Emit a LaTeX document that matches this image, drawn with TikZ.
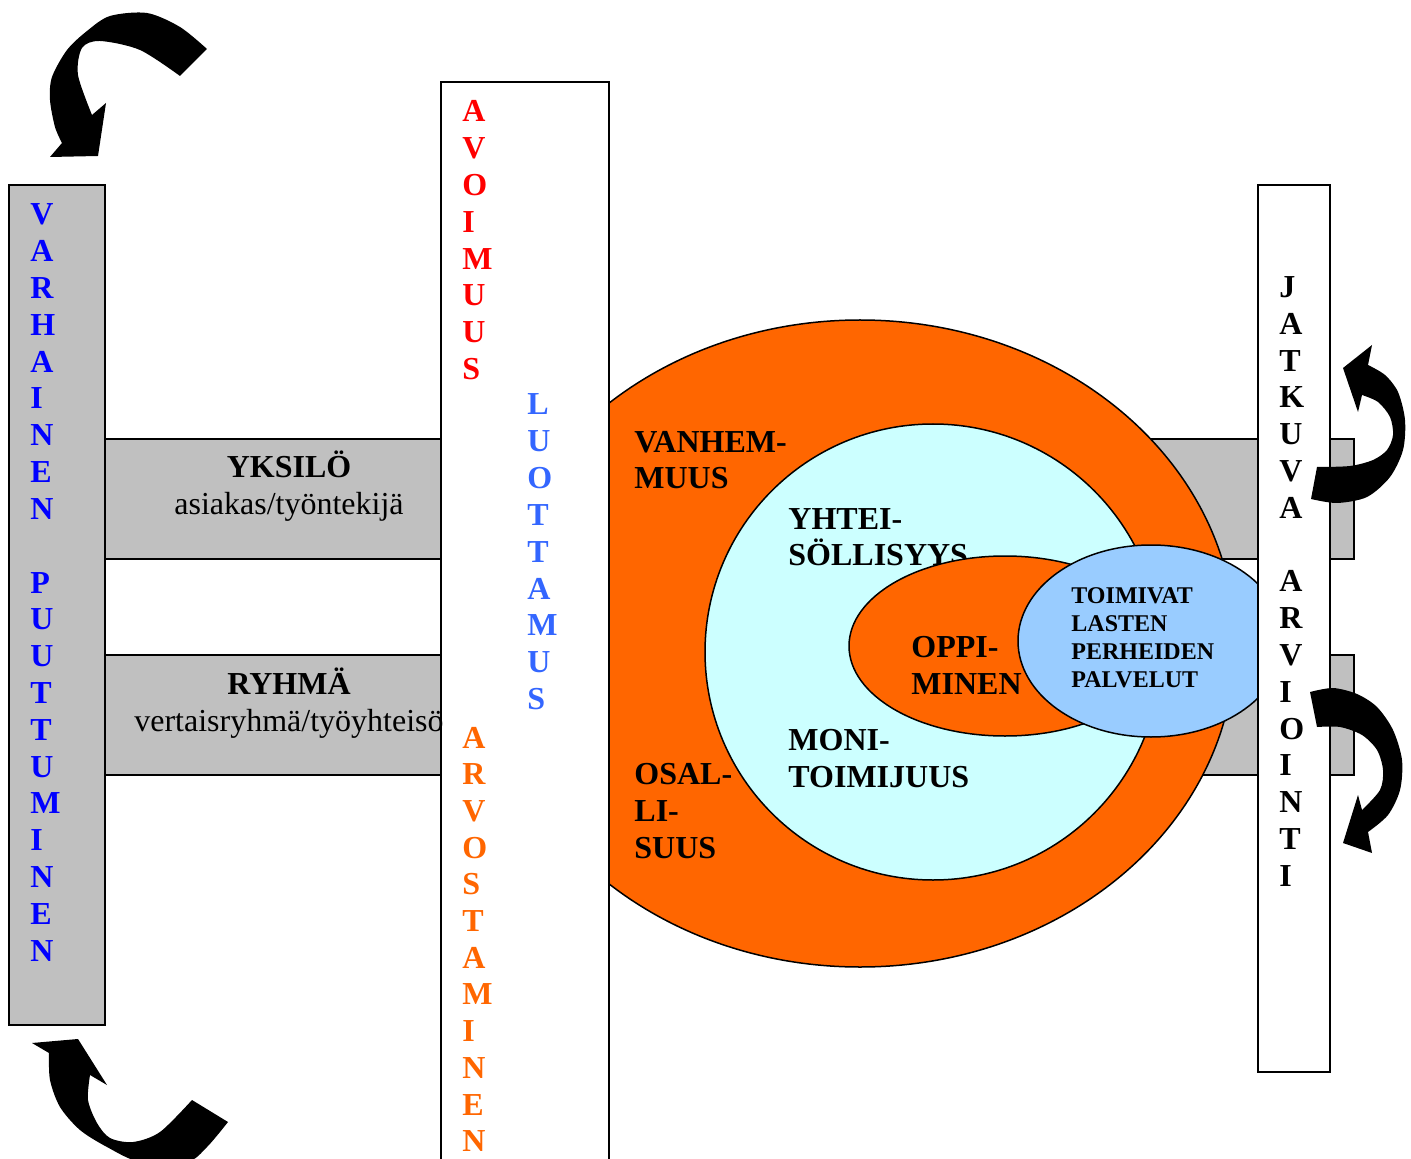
\documentclass[tikz,border=0pt]{standalone}
\usepackage{fontspec}
\setmainfont{Liberation Serif}
\definecolor{bargray}{RGB}{192,192,192}
\definecolor{ringorange}{RGB}{255,102,0}
\definecolor{innercyan}{RGB}{204,255,255}
\definecolor{palblue}{RGB}{153,204,255}
\definecolor{varblue}{RGB}{0,0,255}
\definecolor{luoblue}{RGB}{51,102,255}
\tikzset{
  bar/.style={draw=black, line width=1pt},
  ring/.style={draw=black, line width=0.75pt},
  letter/.style={font=\bfseries\fontsize{16}{18.4}\selectfont, anchor=base west, inner sep=0pt},
  ringtext/.style={font=\bfseries\fontsize{16}{18.4}\selectfont, anchor=base west, inner sep=0pt, align=left},
  bartext/.style={font=\fontsize{16}{18.4}\selectfont, anchor=base, inner sep=0pt},
}
\begin{document}
\begin{tikzpicture}[x=0.5pt,y=-0.5pt]
\useasboundingbox (0,0) rectangle (1411,1159);

%right gray bars
\filldraw[bar, fill=bargray] (1100,439) rectangle (1354,559);
\filldraw[bar, fill=bargray] (1100,655) rectangle (1354,775);
%big ring
\filldraw[ring, fill=ringorange] (860,643.5) ellipse (375 and 323.5);
%left gray bars
\filldraw[bar, fill=bargray] (105,439) rectangle (441,559);
\filldraw[bar, fill=bargray] (105,655) rectangle (441,775);
\filldraw[bar, fill=bargray] (9,185) rectangle (105,1025);
%middle bar
\filldraw[bar, fill=white] (441,82) rectangle (609,1180);
%inner circle
\filldraw[ring, fill=innercyan] (933,652) circle (228);

%ring texts (anchored at the last line)
\node[ringtext] (vanhem) at (634,489) {VANHEM-\\MUUS};
\node[ringtext] (osal) at (634,858) {OSAL-\\LI-\\SUUS};
\node[ringtext] (yhtei) at (788,566) {YHTEI-\\SÖLLISYYS};
\node[ringtext] (moni) at (788,787) {MONI-\\TOIMIJUUS};

%oppiminen
\filldraw[ring, fill=ringorange] (1005,646) ellipse (156 and 90);
\node[ringtext] (oppi) at (911,694) {OPPI-\\MINEN};
%palvelut
\filldraw[ring, fill=palblue] (1151,641) ellipse (133 and 96);
\node[ringtext, font=\bfseries\fontsize{12}{14}\selectfont] (palv) at (1071,687) {TOIMIVAT\\LASTEN\\PERHEIDEN\\PALVELUT};

%right bar
\filldraw[bar, fill=white] (1258,185) rectangle (1330,1072);

%bar texts
\node[bartext, font=\bfseries\fontsize{16}{18.4}\selectfont] (yksilo) at (289,478) {YKSILÖ};
\node[bartext] (asiakas) at (289,515) {asiakas/työntekijä};
\node[bartext, font=\bfseries\fontsize{16}{18.4}\selectfont] (ryhma) at (289,694) {RYHMÄ};
\node[bartext] (vertais) at (289,731) {vertaisryhmä/työyhteisö};

%vertical words
\foreach \c [count=\i from 0] in {V,A,R,H,A,I,N,E,N}
  \node[letter, text=varblue] (varh\i) at (30,{225+36.8*\i}) {\c};
\foreach \c [count=\i from 10] in {P,U,U,T,T,U,M,I,N,E,N}
  \node[letter, text=varblue] (puut\i) at (30,{225+36.8*\i}) {\c};
\foreach \c [count=\i from 0] in {A,V,O,I,M,U,U,S}
  \node[letter, text=red] (avo\i) at (462,{122+36.8*\i}) {\c};
\foreach \c [count=\i from 0] in {L,U,O,T,T,A,M,U,S}
  \node[letter, text=luoblue] (luo\i) at (527,{415+36.8*\i}) {\c};
\foreach \c [count=\i from 0] in {A,R,V,O,S,T,A,M,I,N,E,N}
  \node[letter, text=ringorange] (arvo\i) at (462,{748+36.7*\i}) {\c};
\foreach \c [count=\i from 0] in {J,A,T,K,U,V,A}
  \node[letter] (jatk\i) at (1279,{297.5+36.8*\i}) {\c};
\foreach \c [count=\i from 8] in {A,R,V,I,O,I,N,T,I}
  \node[letter] (arvi\i) at (1279,{297.5+36.8*\i}) {\c};

%curved arrows
%top left
\fill (98,156) -- (50,157) -- (62,143)
  -- plot[smooth] coordinates {(62,143) (55,127) (50,100) (52,77) (67,50) (87,31) (110,16) (147,13) (180,27) (207,49)}
  -- (180,76)
  -- plot[smooth] coordinates {(180,76) (140,50) (100,41) (82,48) (78,75) (92,115)}
  -- (106,103) -- cycle;
%bottom left
\fill (78,1039) -- (32,1043) -- (49,1053)
  -- plot[smooth] coordinates {(49,1053) (50,1080) (60,1107) (80,1130) (107,1147) (140,1162) (187,1162) (207,1147) (228,1122)}
  -- (192,1100)
  -- plot[smooth] coordinates {(192,1100) (160,1132) (133,1142) (110,1138) (97,1123) (88,1100) (90,1075)}
  -- (107,1085) -- cycle;
%top right
\fill (1343,368) -- (1358,412) -- (1362,395)
  -- plot[smooth] coordinates {(1362,395) (1378,402) (1390,417) (1393,435) (1387,450) (1373,460) (1350,466) (1317,467)}
  -- (1311,499)
  -- plot[smooth] coordinates {(1311,499) (1337,503) (1367,497) (1390,477) (1403,450) (1405,420) (1398,392) (1385,375) (1368,365)}
  -- (1372,345) -- cycle;
%bottom right
\fill (1343,843) -- (1358,795) -- (1362,810)
  -- plot[smooth] coordinates {(1362,810) (1380,790) (1383,770) (1377,750) (1362,735) (1340,727) (1317,727)}
  -- (1310,692)
  -- plot[smooth] coordinates {(1310,692) (1333,688) (1357,694) (1377,707) (1393,730) (1402,760) (1400,790) (1388,815) (1368,832)}
  -- (1372,853) -- cycle;

\end{tikzpicture}
\end{document}
